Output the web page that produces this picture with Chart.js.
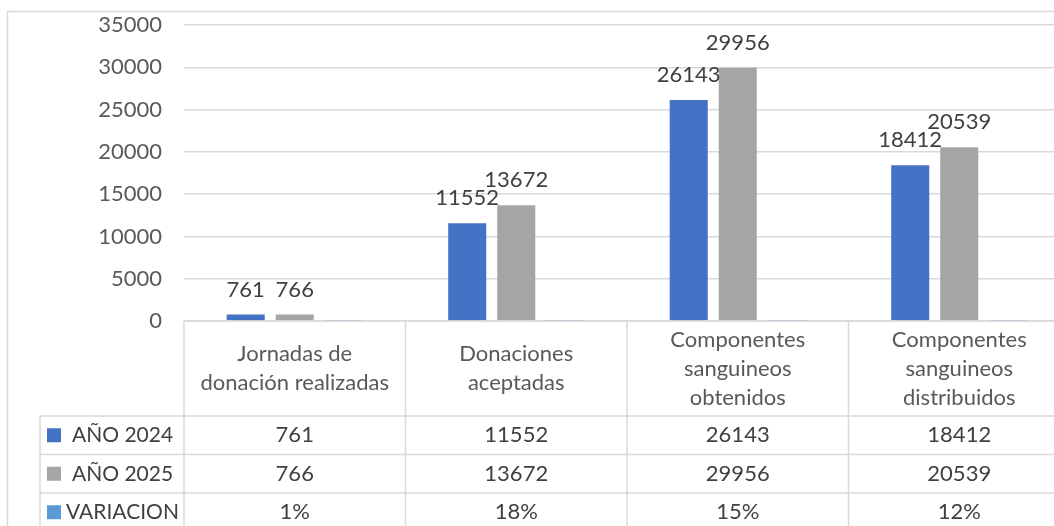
<!DOCTYPE html>
<html>
<head>
<meta charset="utf-8">
<script src="https://cdn.jsdelivr.net/npm/chart.js@4.4.1/dist/chart.umd.min.js"></script>
<style>
  html, body { margin: 0; padding: 0; background: #fff; overflow: hidden; }
  #wrap { width: 1072px; height: 526px; }
</style>
</head>
<body>
<div id="wrap"><canvas id="chart" width="1072" height="526"></canvas></div>
<script>
const categories = [
  ['Jornadas de', 'donación realizadas'],
  ['Donaciones', 'aceptadas'],
  ['Componentes', 'sanguineos', 'obtenidos'],
  ['Componentes', 'sanguineos', 'distribuidos']
];
const year2024 = [761, 11552, 26143, 18412];
const year2025 = [766, 13672, 29956, 20539];
const variacion = [0.01, 0.18, 0.15, 0.12];
const yTicks = [0, 5000, 10000, 15000, 20000, 25000, 30000, 35000];

const FONT = 'Lato, "Open Sans", sans-serif';
const FSIZE = 22;
const GRID = '#d9d9d9';

// value labels above the two year series
const barLabels = {
  id: 'barLabels',
  afterDatasetsDraw(chart) {
    const ctx = chart.ctx;
    ctx.save();
    ctx.font = FSIZE + 'px ' + FONT;
    ctx.fillStyle = '#404040';
    ctx.textAlign = 'center';
    ctx.textBaseline = 'middle';
    [0, 1].forEach(di => {
      chart.getDatasetMeta(di).data.forEach((bar, i) => {
        ctx.fillText(String(chart.data.datasets[di].data[i]), bar.x, bar.y - 25);
      });
    });
    ctx.restore();
  }
};

// data table under the plot, plus outer frame
const dataTable = {
  id: 'dataTable',
  afterDraw(chart) {
    const ctx = chart.ctx;
    const x = chart.scales.x;
    const area = chart.chartArea;
    const n = categories.length;
    const colW = (area.right - area.left) / n;
    const top = area.bottom;
    const headBottom = top + 95;
    const rowH = 38.5;
    const legendLeft = 40;
    const bottom = chart.height;

    ctx.save();
    ctx.strokeStyle = GRID;
    ctx.lineWidth = 1.5;

    // outer chart frame (cropped)
    ctx.beginPath();
    ctx.moveTo(7.5, bottom); ctx.lineTo(7.5, 11.5); ctx.lineTo(chart.width, 11.5);
    ctx.stroke();

    ctx.beginPath();
    ctx.moveTo(area.left, top); ctx.lineTo(chart.width, top);
    for (let r = 0; r < 3; r++) {
      const y = headBottom + r * rowH;
      ctx.moveTo(legendLeft, y); ctx.lineTo(chart.width, y);
    }
    for (let c = 0; c <= n; c++) {
      const xx = area.left + c * colW;
      ctx.moveTo(xx, top); ctx.lineTo(xx, bottom);
    }
    ctx.moveTo(legendLeft, headBottom); ctx.lineTo(legendLeft, bottom);
    ctx.stroke();

    ctx.font = FSIZE + 'px ' + FONT;
    ctx.textAlign = 'center';
    ctx.textBaseline = 'middle';

    // header: category names
    ctx.fillStyle = '#595959';
    categories.forEach((lines, i) => {
      const cx = x.getPixelForValue(i);
      const cy = (top + headBottom) / 2;
      const lh = 29;
      lines.forEach((t, k) => {
        ctx.fillText(t, cx, cy + (k - (lines.length - 1) / 2) * lh);
      });
    });

    // rows
    chart.data.datasets.forEach((ds, r) => {
      const cy = headBottom + r * rowH + rowH / 2;
      ctx.fillStyle = ds.backgroundColor;
      ctx.fillRect(47, cy - 7, 14, 14);
      ctx.fillStyle = '#404040';
      ctx.textAlign = 'left';
      ctx.font = '21px ' + FONT;
      ctx.fillText(ds.label, r < 2 ? 72 : 66, cy);
      ctx.font = FSIZE + 'px ' + FONT;
      ctx.textAlign = 'center';
      ds.data.forEach((v, i) => {
        const txt = r === 2 ? Math.round(v * 100) + '%' : String(v);
        ctx.fillText(txt, x.getPixelForValue(i), cy);
      });
    });
    ctx.restore();
  }
};

new Chart(document.getElementById('chart'), {
  type: 'bar',
  data: {
    labels: categories,
    datasets: [
      { label: 'AÑO 2024', data: year2024, backgroundColor: '#4472C4' },
      { label: 'AÑO 2025', data: year2025, backgroundColor: '#A5A5A5' },
      { label: 'VARIACION', data: variacion, backgroundColor: '#5B9BD5' }
    ]
  },
  options: {
    responsive: false,
    animation: false,
    events: [],
    layout: { padding: { left: 0, right: 2, top: 25, bottom: 205 } },
    plugins: { legend: { display: false }, tooltip: { enabled: false } },
    datasets: { bar: { categoryPercentage: 0.664, barPercentage: 0.776 } },
    scales: {
      x: { display: false },
      y: {
        min: 0, max: 35000,
        afterBuildTicks(scale) { scale.ticks = yTicks.map(v => ({ value: v })); },
        afterFit(scale) {
          scale.width = 184;
          scale.paddingTop = 0;
          scale.paddingBottom = 0;
        },
        border: { display: false },
        grid: { color: GRID, lineWidth: 1.5, drawTicks: false },
        ticks: {
          padding: 22, color: '#595959', font: { family: FONT, size: FSIZE },
          callback: v => String(v)
        }
      }
    }
  },
  plugins: [barLabels, dataTable]
});
</script>
</body>
</html>
